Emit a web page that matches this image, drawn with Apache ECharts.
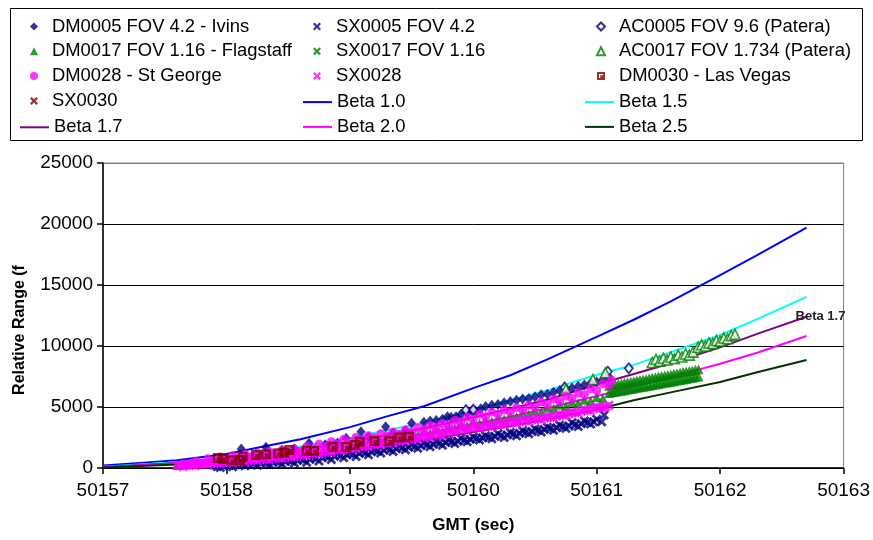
<!DOCTYPE html>
<html><head><meta charset="utf-8">
<script src="https://cdn.jsdelivr.net/npm/echarts@6/dist/echarts.min.js"></script>
<style>html,body{margin:0;padding:0;background:#fff;}#c{width:873px;height:540px;}</style>
</head><body><div id="c"></div>
<script>
// ---------------- data ----------------
const xTicks = [50157, 50158, 50159, 50160, 50161, 50162, 50163];
const yTicks = [0, 5000, 10000, 15000, 20000, 25000];

const betaX  = [50157.0, 50157.3, 50157.6, 50158.0, 50158.3, 50158.6, 50159.0, 50159.3, 50159.6, 50160.0, 50160.3, 50160.6, 50161.0, 50161.3, 50161.6, 50162.0, 50162.3, 50162.7];
const beta10 = [200, 420, 640, 1150, 1760, 2350, 3350, 4230, 5060, 6550, 7600, 8900, 10750, 12150, 13650, 15800, 17450, 19700];
const beta15 = [100, 280, 480, 850, 1300, 1750, 2450, 3100, 3700, 4700, 5550, 6350, 7650, 8450, 9500, 10900, 12200, 14020];
const beta17 = [80, 240, 420, 740, 1120, 1520, 2130, 2700, 3250, 4150, 4850, 5600, 6850, 7710, 8590, 9890, 10990, 12400];
const beta20 = [60, 200, 360, 640, 970, 1300, 1850, 2330, 2800, 3600, 4200, 4900, 5900, 6650, 7450, 8550, 9450, 10820];
const beta25 = [40, 160, 290, 520, 800, 1060, 1500, 1900, 2280, 2950, 3450, 4000, 4800, 5550, 6200, 7050, 7850, 8850];

const dm0005 = [[50158.12,1560],[50158.32,1700],[50158.45,1450],[50158.55,1550],[50158.67,2020],[50158.80,1900],[50158.90,2050],[50158.97,2430],[50159.09,2980],[50159.15,2550],[50159.29,3390],[50159.35,2850],[50159.45,3050],[50159.50,3660],
 [50159.60,3750],[50159.65,3850],[50159.70,3900],[50159.75,4000],[50159.79,4210],[50159.82,4150],[50159.86,4200],[50159.90,4400],[50159.95,4500],[50159.99,4700],[50160.02,4650],[50160.06,4850],[50160.10,5050],[50160.15,5150],[50160.20,5200],[50160.25,5350],[50160.30,5450],[50160.35,5550],[50160.40,5650],[50160.45,5700],[50160.50,5850],[50160.55,6000],[50160.60,6050],[50160.65,6200],[50160.70,6350],[50160.75,6400],[50160.80,6550],[50160.85,6700],[50160.90,6800],[50160.95,6950],[50161.00,7050],[50161.05,7250],[50161.10,7450]];

const sx0005 = [[50157.90,250],[50157.95,50],[50158.00,350],[50158.05,100],[50158.10,420],[50158.15,180],[50158.20,500],[50158.25,230],[50158.30,560],[50158.35,280],[50158.40,620],[50158.45,330],[50158.50,700],[50158.55,400],[50158.60,780],[50158.65,480],[50158.70,900],[50158.75,580],[50158.80,1000],[50158.85,700],[50158.90,1150],[50158.95,850],[50159.00,1230],[50159.05,950],[50159.10,1370],[50159.15,1080],[50159.20,1500],[50159.25,1220],[50159.30,1650],[50159.35,1350],[50159.40,1780],[50159.45,1500],[50159.50,1900],[50159.55,1620],[50159.60,2030],[50159.65,1750],[50159.70,2150],[50159.75,1870],[50159.80,2280],[50159.85,2000],[50159.90,2430],[50159.95,2150],[50160.00,2550],[50160.05,2300],[50160.10,2650],[50160.15,2400],[50160.20,2800],[50160.25,2500],[50160.30,2900],[50160.35,2650],[50160.40,3050],[50160.45,2800],[50160.50,3200],[50160.55,2950],[50160.60,3350],[50160.65,3100],[50160.70,3500],[50160.75,3250],[50160.80,3700],[50160.85,3400],[50160.90,3850],[50160.95,3600],[50161.00,4000],[50161.04,3800],[50161.06,4350],
 [50157.925,120],[50157.975,180],[50158.025,200],[50158.075,260],[50158.125,300],[50158.175,330],[50158.225,360],[50158.275,400],[50158.325,430],[50158.375,470],[50158.425,500],[50158.475,540],[50158.525,580],[50158.575,620],[50158.625,680],[50158.675,720],[50158.725,780],[50158.775,840],[50158.825,900],[50158.875,960],[50158.925,1020],[50158.975,1080],[50159.025,1130],[50159.075,1200],[50159.125,1260],[50159.175,1330],[50159.225,1390],[50159.275,1450],[50159.325,1520],[50159.375,1580],[50159.425,1650],[50159.475,1700],[50159.525,1770],[50159.575,1830],[50159.625,1900],[50159.675,1950],[50159.725,2020],[50159.775,2080],[50159.825,2150],[50159.875,2200],[50159.925,2280],[50159.975,2350],[50160.025,2420],[50160.075,2480],[50160.125,2530],[50160.175,2600],[50160.225,2650],[50160.275,2700],[50160.325,2780],[50160.375,2850],[50160.425,2930],[50160.475,3000],[50160.525,3080],[50160.575,3150],[50160.625,3230],[50160.675,3300],[50160.725,3380],[50160.775,3450],[50160.825,3550],[50160.875,3620],[50160.925,3720],[50160.975,3800]];

const ac0005 = [[50159.94,4750],[50160.00,4780],[50160.74,6600],[50161.09,7900],[50161.26,8170]];

const dm0017 = [[50157.60,250],[50157.63,350],[50157.67,300],
 [50159.20,2400],[50159.25,2230],[50159.30,2550],[50159.35,2380],[50159.40,2700],[50159.45,2530],[50159.50,2850],[50159.55,2680],[50159.60,3000],[50159.65,2830],[50159.70,3150],[50159.75,3000],[50159.80,3350],[50159.85,3250],[50159.90,3550],[50159.95,3450],[50160.00,3770],[50160.05,3650],[50160.10,3920],[50160.15,3800],[50160.20,4080],[50160.25,3980],[50160.30,4250],[50160.35,4150],[50160.40,4480],[50160.45,4380],[50160.50,4700],[50160.55,4600],[50160.60,4950],[50160.65,4850],[50160.70,5180],[50160.75,5070],[50160.80,5400],[50160.85,5300],[50160.90,5600],[50160.95,5500],[50161.00,5800],[50161.05,5700],
 [50161.100,6750],[50161.100,6150],[50161.125,6800],[50161.125,6200],[50161.150,6840],[50161.150,6240],[50161.175,6890],[50161.175,6290],[50161.200,6930],[50161.200,6330],[50161.225,6980],[50161.225,6380],[50161.250,7030],[50161.250,6430],[50161.275,7070],[50161.275,6470],[50161.300,7120],[50161.300,6520],[50161.325,7170],[50161.325,6570],[50161.350,7210],[50161.350,6610],[50161.375,7260],[50161.375,6660],[50161.400,7300],[50161.400,6700],[50161.425,7350],[50161.425,6750],[50161.450,7400],[50161.450,6800],[50161.475,7440],[50161.475,6840],[50161.500,7490],[50161.500,6890],[50161.525,7540],[50161.525,6940],[50161.550,7580],[50161.550,6980],[50161.575,7630],[50161.575,7030],[50161.600,7670],[50161.600,7070],[50161.625,7720],[50161.625,7120],[50161.650,7770],[50161.650,7170],[50161.675,7810],[50161.675,7210],[50161.700,7860],[50161.700,7260],[50161.725,7900],[50161.725,7300],[50161.750,7950],[50161.750,7350],[50161.775,8000],[50161.775,7400],[50161.800,8050],[50161.800,7450],[50161.825,8090],[50161.825,7490]];

const sx0017 = [];

const ac0017 = [[50160.75,6450],[50160.97,7250],[50161.07,7800],
 [50161.45,8650],[50161.48,8900],[50161.51,8750],[50161.54,9000],[50161.57,8850],[50161.60,9100],[50161.63,8950],[50161.66,9250],[50161.69,9100],[50161.72,9350],[50161.75,9250],[50161.78,9500],
 [50161.82,9900],[50161.85,10100],[50161.88,10000],[50161.91,10250],[50161.94,10200],[50161.97,10450],[50162.00,10400],[50162.03,10650],[50162.06,10600],[50162.09,10850],[50162.12,10950]];

const dm0028 = [[50157.65,300],[50157.70,300],[50157.75,560],[50157.80,420],[50157.85,750],[50157.90,580],[50157.95,900],[50158.00,720],[50158.05,1000],[50158.10,820],[50158.15,1120],[50158.20,920],[50158.25,1220],[50158.30,1020],[50158.35,1330],[50158.40,1150],[50158.45,1450],[50158.50,1260],[50158.55,1570],[50158.60,1370],[50158.65,1750],[50158.70,1570],[50158.75,1950],[50158.80,1770],[50158.85,2150],[50158.90,1970],[50158.95,2350],[50159.00,2170],[50159.05,2500],[50159.10,2320],[50159.15,2650],[50159.20,2470],[50159.25,2800],[50159.30,2620],[50159.35,2950],[50159.40,2770],[50159.45,3120],[50159.50,2950],[50159.55,3300],[50159.60,3120],[50159.65,3480],[50159.70,3300],[50159.75,3650],[50159.80,3480],[50159.85,3900],[50159.90,3750],[50159.95,4150],[50160.00,4000],[50160.05,4400],[50160.10,4200],[50160.15,4580],[50160.20,4400],[50160.25,4750],[50160.30,4580],[50160.35,4950],[50160.40,4750],[50160.45,5150],[50160.50,4950],[50160.55,5400],[50160.60,5200],[50160.65,5650],[50160.70,5450],[50160.75,5900],[50160.80,5700],[50160.85,6150],[50160.90,6000],[50160.95,6500],[50161.00,6350],[50161.05,6900],[50161.10,6800],[50161.12,7200]];

const sx0028 = [[50157.60,250],[50157.65,100],[50157.70,330],[50157.75,180],[50157.80,420],[50157.85,260],[50157.90,500],[50157.95,340],[50158.00,600],[50158.05,420],[50158.10,680],[50158.15,500],[50158.20,770],[50158.25,590],[50158.30,860],[50158.35,680],[50158.40,950],[50158.45,780],[50158.50,1070],[50158.55,900],[50158.60,1200],[50158.65,1030],[50158.70,1320],[50158.75,1150],[50158.80,1450],[50158.85,1300],[50158.90,1600],[50158.95,1450],[50159.00,1750],[50159.05,1600],[50159.10,1900],[50159.15,1750],[50159.20,2050],[50159.25,1900],[50159.30,2200],[50159.35,2050],[50159.40,2350],[50159.45,2200],[50159.50,2500],[50159.55,2350],[50159.60,2650],[50159.65,2520],[50159.70,2850],[50159.75,2700],[50159.80,3050],[50159.85,2900],[50159.90,3250],[50159.95,3100],[50160.00,3400],[50160.05,3250],[50160.10,3520],[50160.15,3380],[50160.20,3650],[50160.25,3520],[50160.30,3800],[50160.35,3650],[50160.40,3950],[50160.45,3800],[50160.50,4100],[50160.55,3950],[50160.60,4250],[50160.65,4100],[50160.70,4400],[50160.75,4300],[50160.80,4600],[50160.85,4500],[50160.90,4800],[50160.95,4700],[50161.00,5000],[50161.05,4900],[50161.10,5150],
 [50157.625,180],[50157.675,220],[50157.725,260],[50157.775,300],[50157.825,340],[50157.875,380],[50157.925,420],[50157.975,470],[50158.025,510],[50158.075,550],[50158.125,590],[50158.175,640],[50158.225,680],[50158.275,730],[50158.325,770],[50158.375,820],[50158.425,870],[50158.475,920],[50158.525,990],[50158.575,1050],[50158.625,1110],[50158.675,1180],[50158.725,1240],[50158.775,1300],[50158.825,1370],[50158.875,1450],[50158.925,1520],[50158.975,1600],[50159.025,1680],[50159.075,1750],[50159.125,1820],[50159.175,1900],[50159.225,1980],[50159.275,2050],[50159.325,2120],[50159.375,2200],[50159.425,2280],[50159.475,2350],[50159.525,2430],[50159.575,2500],[50159.625,2580],[50159.675,2680],[50159.725,2770],[50159.775,2870],[50159.825,2980],[50159.875,3070],[50159.925,3170],[50159.975,3250],[50160.025,3320],[50160.075,3390],[50160.125,3450],[50160.175,3520],[50160.225,3580],[50160.275,3660],[50160.325,3730],[50160.375,3800],[50160.425,3880],[50160.475,3950],[50160.525,4020],[50160.575,4100],[50160.625,4180],[50160.675,4250],[50160.725,4350],[50160.775,4450],[50160.825,4550],[50160.875,4650],[50160.925,4750],[50160.975,4850],[50161.025,4950],[50161.075,5030]];

const dm0030 = [[50157.93,820],[50157.97,760],[50158.04,640],[50158.11,660],[50158.13,930],[50158.24,1060],[50158.32,1120],[50158.42,1200],[50158.47,1280],[50158.51,1470],[50158.65,1420],[50158.71,1420],[50158.86,1750],[50158.97,1730],[50159.04,1880],[50159.08,2150],[50159.20,2210],[50159.32,2210],[50159.40,2510],[50159.48,2570]];

const sx0030 = [];

// ---------------- chart ----------------
const FONT = '"Liberation Sans", Arial, sans-serif';
const X_SYM = 'path://M0,2 L2,0 L5,3 L8,0 L10,2 L7,5 L10,8 L8,10 L5,7 L2,10 L0,8 L3,5 Z';
const SQ_SYM = 'path://M0,0 L10,0 L10,10 L0,10 Z M2.5,2.5 L2.5,7.5 L4,7.5 L4,4 L7.5,4 L7.5,2.5 Z';

function pairs(xs, ys) { return xs.map((x, i) => [x, ys[i]]); }
function lineS(name, ys, color, extra) {
  return Object.assign({
    name, type: 'line', data: pairs(betaX, ys), symbol: 'none', showSymbol: false,
    lineStyle: { color, width: 2 }, itemStyle: { color }, z: 1, silent: true
  }, extra || {});
}
function scat(name, data, symbol, size, itemStyle) {
  return { name, type: 'scatter', data, symbol, symbolSize: size, itemStyle, z: 2, silent: true };
}

const chart = echarts.init(document.getElementById('c'), null, { renderer: 'canvas' });
const TXT = { fontSize: 18.4, fontFamily: FONT, color: '#000' };
const ROW = 25.2, TOP0 = 17.5;
function scatLegend(left, pad, names) {
  return { orient: 'vertical', left, top: TOP0, padding: 0, itemGap: ROW - 18.4, itemWidth: 8, itemHeight: 8,
    selectedMode: false, textStyle: Object.assign({ padding: [0, 0, 0, pad] }, TXT), data: names };
}
function lineLegend(left, row, names) {
  return { orient: 'vertical', left, top: TOP0 + row * ROW, padding: 0, itemGap: ROW - 18.4, itemWidth: 29, itemHeight: 2,
    selectedMode: false, icon: 'rect', textStyle: TXT, data: names };
}
const option = {
  animation: false,
  backgroundColor: '#fff',
  grid: { left: 103, right: 28, top: 163, bottom: 72, show: true, borderColor: '#808080', borderWidth: 1, containLabel: false },
  legend: [
    scatLegend(30, 9, ['DM0005 FOV 4.2 - Ivins', 'DM0017 FOV 1.16 - Flagstaff', 'DM0028 - St George', 'SX0030']),
    lineLegend(20, 4, ['Beta 1.7']),
    scatLegend(313, 10, ['SX0005 FOV 4.2', 'SX0017 FOV 1.16', 'SX0028']),
    lineLegend(303, 3, ['Beta 1.0', 'Beta 2.0']),
    scatLegend(596, 9, ['AC0005 FOV 9.6 (Patera)', 'AC0017 FOV 1.734 (Patera)', 'DM0030 - Las Vegas']),
    lineLegend(585, 3, ['Beta 1.5', 'Beta 2.5'])
  ],
  graphic: [
    { type: 'rect', z: 0, silent: true, shape: { x: 10.5, y: 8.5, width: 852, height: 132 }, style: { fill: '#fff', stroke: '#000', lineWidth: 1 } },
    { type: 'text', z: 10, silent: true, x: 20, y: 330, rotation: Math.PI / 2,
      style: { text: 'Relative Range (f', font: 'bold 16px "Liberation Sans", Arial, sans-serif', fill: '#000', align: 'center', verticalAlign: 'middle' } }
  ],
  xAxis: {
    type: 'value', min: xTicks[0], max: xTicks[xTicks.length - 1], interval: 1,
    name: 'GMT (sec)', nameLocation: 'middle', nameGap: 49,
    nameTextStyle: { fontWeight: 'bold', fontSize: 17, fontFamily: FONT, color: '#000' },
    axisLine: { show: true, onZero: false, lineStyle: { color: '#000', width: 1.5 } },
    axisTick: { show: true, length: 6, lineStyle: { color: '#000', width: 1.5 } },
    axisLabel: { fontSize: 19, fontFamily: FONT, color: '#000', margin: 13, formatter: v => String(v) },
    splitLine: { show: false }
  },
  yAxis: {
    type: 'value', min: yTicks[0], max: yTicks[yTicks.length - 1], interval: 5000,
    axisLine: { show: true, lineStyle: { color: '#000', width: 1.5 } },
    axisTick: { show: true, length: 6, lineStyle: { color: '#000', width: 1.5 } },
    axisLabel: { fontSize: 19, fontFamily: FONT, color: '#000', margin: 10, formatter: v => String(v) },
    splitLine: { show: true, lineStyle: { color: ['#000', '#000', '#000', '#000', '#000', '#808080'], width: 1 } }
  },
  series: [
    lineS('Beta 1.0', beta10, '#0000FF'),
    lineS('Beta 1.5', beta15, '#00FFFF'),
    lineS('Beta 1.7', beta17, '#800080', {
      endLabel: { show: true, formatter: 'Beta 1.7', fontSize: 13, fontWeight: 'bold', fontFamily: FONT, color: '#222', distance: 0, offset: [-11, 0] }
    }),
    lineS('Beta 2.0', beta20, '#FF00FF'),
    lineS('Beta 2.5', beta25, '#003300'),
    scat('DM0005 FOV 4.2 - Ivins', dm0005, 'diamond', [9, 11], { color: '#000080' }),
    scat('SX0005 FOV 4.2', sx0005, X_SYM, 10, { color: '#000080' }),
    scat('AC0005 FOV 9.6 (Patera)', ac0005, 'diamond', [8, 10], { color: '#fff', borderColor: '#000080', borderWidth: 1.8 }),
    scat('DM0017 FOV 1.16 - Flagstaff', dm0017, 'triangle', 10, { color: '#008000' }),
    scat('SX0017 FOV 1.16', sx0017, X_SYM, 8, { color: '#008000' }),
    scat('AC0017 FOV 1.734 (Patera)', ac0017, 'triangle', 10, { color: '#fff', borderColor: '#008000', borderWidth: 1.6 }),
    scat('DM0028 - St George', dm0028, 'circle', 9, { color: '#FF00FF' }),
    scat('SX0028', sx0028, X_SYM, 10, { color: '#FF00FF' }),
    scat('DM0030 - Las Vegas', dm0030, SQ_SYM, 10, { color: '#800000' }),
    scat('SX0030', sx0030, X_SYM, 8, { color: '#800000' })
  ]
};
chart.setOption(option);
</script>
</body></html>
